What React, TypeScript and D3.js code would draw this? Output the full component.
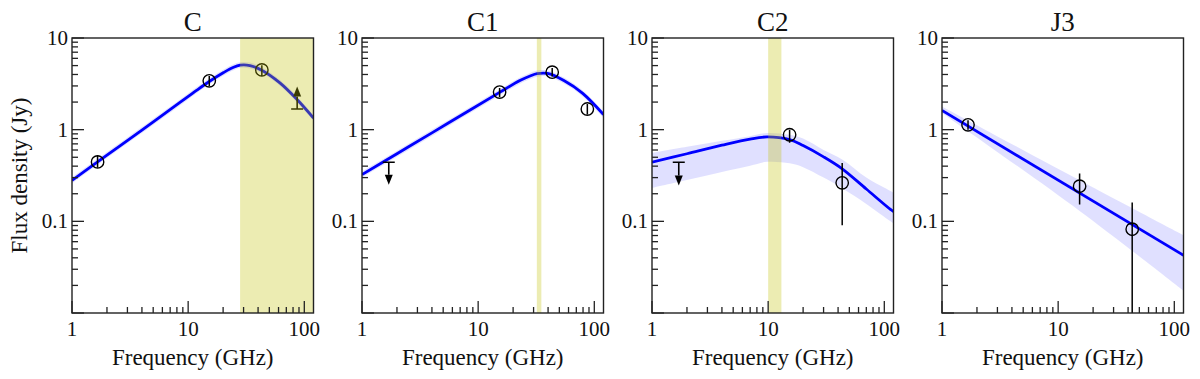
import React from "react";
import * as d3 from "d3";

// ---------- data ----------
const panelTitles = ["C", "C1", "C2", "J3"];
const xTickLabels = [1, 10, 100];
const yTickLabels = [10, 1, 0.1];

// Panel C
const cCurveFreq = [1, 2, 4, 8.5, 11.9, 15.2, 20.2, 24.6, 28, 34, 43, 62, 87, 120];
const cCurveFlux = [0.279, 0.527, 0.99, 1.98, 2.7, 3.35, 4.2, 4.8, 5.05, 5.0, 4.45, 3.22, 2.12, 1.34];
const cBandLo = [0.259, 0.49, 0.92, 1.84, 2.51, 3.12, 3.91, 4.46, 4.7, 4.65, 4.14, 2.99, 1.97, 1.25];
const cBandHi = [0.301, 0.569, 1.07, 2.14, 2.92, 3.62, 4.54, 5.18, 5.45, 5.4, 4.81, 3.48, 2.29, 1.45];
const cPtFreq = [1.66, 15.2, 43.1];
const cPtFlux = [0.445, 3.41, 4.49];
const cPtLo = [0.385, 3.0, 3.85];
const cPtHi = [0.525, 3.85, 5.05];

// Panel C1
const c1CurveFreq = [1, 2, 4, 8.6, 15.3, 23.1, 28, 32.2, 39.5, 54.7, 79, 120];
const c1CurveFlux = [0.324, 0.547, 0.923, 1.65, 2.55, 3.45, 3.85, 4.08, 4.1, 3.43, 2.5, 1.46];
const c1BandLo = [0.3, 0.506, 0.855, 1.53, 2.36, 3.19, 3.56, 3.78, 3.8, 3.18, 2.32, 1.35];
const c1BandHi = [0.35, 0.59, 0.997, 1.78, 2.75, 3.73, 4.16, 4.41, 4.43, 3.7, 2.7, 1.58];
const c1PtFreq = [15.3, 43.4, 87.1];
const c1PtFlux = [2.57, 4.24, 1.68];
const c1PtLo = [2.27, 3.8, 1.46];
const c1PtHi = [2.84, 4.7, 1.9];

// Panel C2
const c2CurveFreq = [1, 2, 4, 7, 9.8, 15.3, 20, 30, 43.4, 70, 113, 120];
const c2CurveFlux = [0.441, 0.546, 0.677, 0.79, 0.833, 0.778, 0.67, 0.505, 0.374, 0.225, 0.135, 0.128];
const c2BandLo = [0.232, 0.283, 0.346, 0.404, 0.446, 0.43, 0.39, 0.3, 0.23, 0.155, 0.1, 0.095];
const c2BandHi = [0.558, 0.65, 0.756, 0.85, 0.92, 0.88, 0.8, 0.6, 0.472, 0.3, 0.214, 0.205];
const c2PtFreq = [15.3, 43.4];
const c2PtFlux = [0.88, 0.263];
const c2PtLo = [0.72, 0.0905];
const c2PtHi = [1.0, 0.434];

// Panel J3
const j3CurveFreq = [1, 120];
const j3CurveFlux = [1.62, 0.0427];
const j3BandFreq = [1, 15.3, 120];
const j3BandLo = [1.52, 0.13, 0.0175];
const j3BandHi = [1.79, 0.28, 0.0705];
const j3PtFreq = [1.675, 15.3, 43.4];
const j3PtFlux = [1.13, 0.242, 0.082];
const j3PtLo = [1.0, 0.153, 0.005];
const j3PtHi = [1.27, 0.333, 0.16];

// yellow frequency windows [from, to] (GHz)
const yellowFrom = [28, 32, 10, null];
const yellowTo = [120, 35, 13, null];

// limits: kind ("lower" arrow up / "upper" arrow down), freq, value, arrow end
const limitKind = ["lower", "upper", "upper", null];
const limitFreq = [86.8, 1.7, 1.7, null];
const limitVal = [1.68, 0.441, 0.441, null];
const limitEnd = [2.96, 0.25, 0.246, null];

const panels = [
  { curveF: cCurveFreq, curveS: cCurveFlux, bandF: cCurveFreq, bandLo: cBandLo, bandHi: cBandHi, pf: cPtFreq, ps: cPtFlux, plo: cPtLo, phi: cPtHi },
  { curveF: c1CurveFreq, curveS: c1CurveFlux, bandF: c1CurveFreq, bandLo: c1BandLo, bandHi: c1BandHi, pf: c1PtFreq, ps: c1PtFlux, plo: c1PtLo, phi: c1PtHi },
  { curveF: c2CurveFreq, curveS: c2CurveFlux, bandF: c2CurveFreq, bandLo: c2BandLo, bandHi: c2BandHi, pf: c2PtFreq, ps: c2PtFlux, plo: c2PtLo, phi: c2PtHi },
  { curveF: j3CurveFreq, curveS: j3CurveFlux, bandF: j3BandFreq, bandLo: j3BandLo, bandHi: j3BandHi, pf: j3PtFreq, ps: j3PtFlux, plo: j3PtLo, phi: j3PtHi },
];

// ---------- layout ----------
const WIDTH = 1200;
const HEIGHT = 379;
const LEFT0 = 72;
const STEP = 290;
const TOP = 38;
const PW = 241.5;
const PH = 275;
const FONT = "Liberation Serif, DejaVu Serif, Times New Roman, serif";
const AXIS = "#222";

function Panel({ i }: { i: number }) {
  const p = panels[i];
  const x = d3.scaleLog().domain([1, 120]).range([0, PW]);
  const y = d3.scaleLog().domain([0.01, 10]).range([PH, 0]);
  const clipId = `clip${i}`;

  const line = d3
    .line<number>()
    .x((_, k) => x(p.curveF[k]))
    .y((s) => y(s))
    .curve(d3.curveCatmullRom.alpha(0.5));
  const area = d3
    .area<number>()
    .x((_, k) => x(p.bandF[k]))
    .y0((_, k) => y(p.bandLo[k]))
    .y1((_, k) => y(p.bandHi[k]))
    .curve(d3.curveCatmullRom.alpha(0.5));

  const xt = x.ticks();
  const yt = y.ticks();
  const isMajor = (v: number) => Math.abs(Math.log10(v) - Math.round(Math.log10(v))) < 1e-6;

  const lk = limitKind[i];
  let limitEl = null;
  if (lk) {
    const lx = x(limitFreq[i] as number);
    const ly0 = y(limitVal[i] as number);
    const ly1 = y(limitEnd[i] as number);
    const dir = ly1 < ly0 ? -1 : 1; // -1 = up
    const head = 10;
    limitEl = (
      <g>
        <line x1={lx - 6} x2={lx + 6} y1={ly0} y2={ly0} stroke="#000" strokeWidth={1.6} />
        <line x1={lx} x2={lx} y1={ly0} y2={ly1 - dir * head} stroke="#000" strokeWidth={1.6} />
        <path d={`M${lx},${ly1} L${lx - 4},${ly1 - dir * head} L${lx + 4},${ly1 - dir * head} Z`} fill="#000" />
      </g>
    );
  }

  const yf = yellowFrom[i];
  const ytT = yellowTo[i];

  return (
    <g transform={`translate(${LEFT0 + i * STEP},${TOP})`}>
      <defs>
        <clipPath id={clipId}>
          <rect x={0} y={0} width={PW} height={PH} />
        </clipPath>
      </defs>
      <g clipPath={`url(#${clipId})`}>
        <path d={area(p.bandLo) || ""} fill="#0000ff" fillOpacity={0.12} stroke="none" />
        <path d={line(p.curveS) || ""} fill="none" stroke="#0000ff" strokeWidth={2.8} />
        {p.pf.map((f, k) => (
          <g key={k}>
            <line x1={x(f)} x2={x(f)} y1={y(p.plo[k])} y2={y(p.phi[k])} stroke="#000" strokeWidth={1.5} />
            <circle cx={x(f)} cy={y(p.ps[k])} r={6.2} fill="none" stroke="#000" strokeWidth={1.4} />
          </g>
        ))}
        {limitEl}
        {yf != null && ytT != null && (
          <rect x={x(yf)} y={0} width={x(ytT) - x(yf)} height={PH} fill="#bfbf00" fillOpacity={0.3} />
        )}
      </g>
      {/* ticks */}
      {xt.map((v, k) => {
        const major = isMajor(v);
        return (
          <line key={"x" + k} x1={x(v)} x2={x(v)} y1={PH} y2={PH - (major ? 12 : 6)} stroke={AXIS} strokeWidth={1.3} />
        );
      })}
      {yt.map((v, k) => {
        const major = isMajor(v);
        return <line key={"y" + k} x1={0} x2={major ? 12 : 6} y1={y(v)} y2={y(v)} stroke={AXIS} strokeWidth={1.3} />;
      })}
      <rect x={0} y={0} width={PW} height={PH} fill="none" stroke={AXIS} strokeWidth={1.4} />
      {/* tick labels */}
      {xTickLabels.map((v) => (
        <text key={"xl" + v} x={x(v)} y={PH + 23} textAnchor="middle" fontFamily={FONT} fontSize={21} fill="#111">
          {v}
        </text>
      ))}
      {yTickLabels.map((v) => (
        <text key={"yl" + v} x={-4} y={y(v) + 7} textAnchor="end" fontFamily={FONT} fontSize={21} fill="#111">
          {v}
        </text>
      ))}
      <text x={PW / 2} y={-7} textAnchor="middle" fontFamily={FONT} fontSize={27} fill="#111">
        {panelTitles[i]}
      </text>
      <text x={PW / 2} y={PH + 52} textAnchor="middle" fontFamily={FONT} fontSize={23} fill="#111">
        Frequency (GHz)
      </text>
      {i === 0 && (
        <text
          transform={`translate(${-45},${PH / 2}) rotate(-90)`}
          textAnchor="middle"
          fontFamily={FONT}
          fontSize={23}
          fill="#111"
        >
          Flux density (Jy)
        </text>
      )}
    </g>
  );
}

export default function App() {
  return (
    <svg
      width={WIDTH}
      height={HEIGHT}
      style={{ position: "absolute", left: 0, top: 0, background: "#fff" }}
    >
      <rect width={WIDTH} height={HEIGHT} fill="#fff" />
      {panelTitles.map((_, i) => (
        <Panel key={i} i={i} />
      ))}
    </svg>
  );
}
